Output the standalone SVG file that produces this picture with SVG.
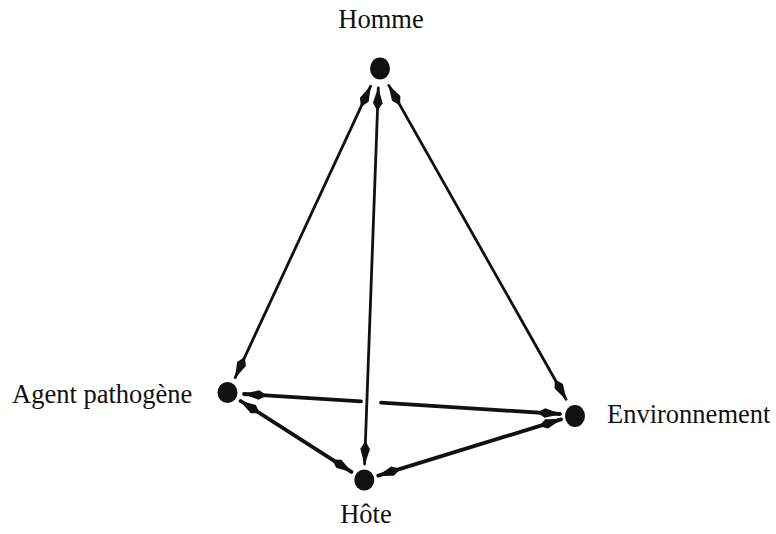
<svg xmlns="http://www.w3.org/2000/svg" width="776" height="534" viewBox="0 0 776 534">
<style>
.lbl{font-family:"Liberation Serif","Times New Roman",serif;font-size:26.5px;fill:#111}
.dot{fill:#111}
.e{stroke:#111;fill:none;stroke-linecap:round}
.thin{stroke-width:2.8}
.thick{stroke-width:3.8}
</style>
<defs>
<marker id="ah" viewBox="0 -6 24 12" refX="23" refY="0" markerWidth="24" markerHeight="12" markerUnits="userSpaceOnUse" orient="auto-start-reverse">
<path d="M0,0 L8,-4.8 L24,0 L8,4.8 z" fill="#111"/>
</marker>
</defs>
<rect width="776" height="534" fill="#fff"/>
<g id="connectors">
<line class="e thin" x1="370.6" y1="86.2" x2="235.2" y2="377.6" marker-start="url(#ah)" marker-end="url(#ah)"/>
<line class="e thin" x1="378.3" y1="88" x2="364.6" y2="464" marker-start="url(#ah)" marker-end="url(#ah)"/>
<line class="e thin" x1="388.8" y1="85.4" x2="566.1" y2="399.3" marker-start="url(#ah)" marker-end="url(#ah)"/>
<line class="e thick" x1="244" y1="394" x2="361" y2="401.4" marker-start="url(#ah)"/>
<line class="e thick" x1="381" y1="402.7" x2="560" y2="414" marker-end="url(#ah)"/>
<line class="e thick" x1="240.6" y1="401" x2="351.4" y2="471.9" marker-start="url(#ah)" marker-end="url(#ah)"/>
<line class="e thick" x1="378.3" y1="475.6" x2="561" y2="419.4" marker-start="url(#ah)" marker-end="url(#ah)"/>
</g>
<g id="homme">
<ellipse class="dot" cx="380" cy="68.5" rx="10" ry="11"/>
<text class="lbl" x="381" y="28" text-anchor="middle">Homme</text>
</g>
<g id="agent">
<ellipse class="dot" cx="227.5" cy="392.5" rx="10" ry="10.5"/>
<text class="lbl" x="12" y="403">Agent pathogène</text>
</g>
<g id="environnement">
<ellipse class="dot" cx="575" cy="416" rx="10" ry="11"/>
<text class="lbl" x="607" y="423">Environnement</text>
</g>
<g id="hote">
<ellipse class="dot" cx="364.3" cy="480" rx="10" ry="10.5"/>
<text class="lbl" x="366" y="523" text-anchor="middle">Hôte</text>
</g>
</svg>
